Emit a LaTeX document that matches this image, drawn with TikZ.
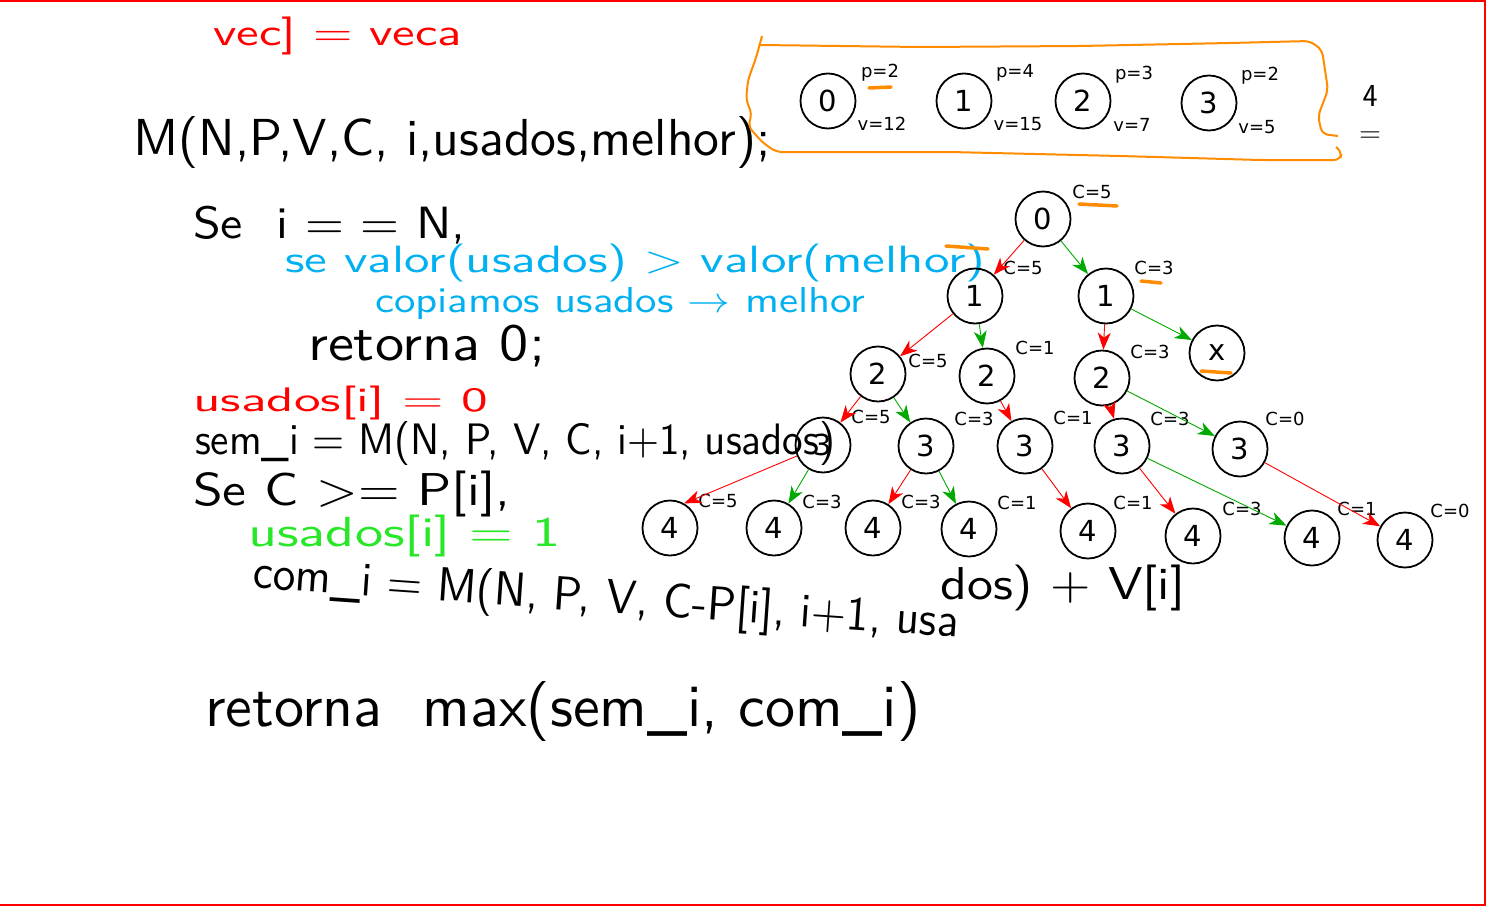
\documentclass[tikz,border=0pt]{standalone}
\usepackage{fontspec}
\newfontfamily\treefont{DejaVu Sans}
\usetikzlibrary{arrows.meta, calc}
\definecolor{penred}{RGB}{255,0,0}
\definecolor{pencyan}{RGB}{0,176,240}
\definecolor{pengreen}{RGB}{40,230,40}
\definecolor{edgegreen}{RGB}{0,170,0}
\definecolor{penorange}{RGB}{255,140,0}
\newcommand{\fitwh}[3]{\resizebox*{#1}{#2}{#3}}
\tikzset{
  st/.style  ={circle, draw=black, line width=1.8pt, minimum size=55pt,
               inner sep=0pt, font=\treefont\fontsize{29}{31}\selectfont},
  clab/.style={inner sep=0pt, font=\treefont\fontsize{18}{20}\selectfont},
  hw/.style  ={inner sep=0pt, anchor=west, font=\sffamily},
  nao/.style ={-{Stealth[length=17pt, width=13pt, inset=5pt]}, penred, line width=0.9pt},
  sim/.style ={-{Stealth[length=17pt, width=13pt, inset=5pt]}, edgegreen, line width=0.9pt},
  hilite/.style={penorange, line width=3.5pt, line cap=round}
}
\begin{document}
\begin{tikzpicture}[x=1pt, y=-1pt]
    \useasboundingbox (0,0) rectangle (1487,907);
    \draw[penred, line width=2pt] (0,1) -- (1485,1) -- (1485,905) -- (0,905);

    % handwritten notes
    \node[hw, penred] (veca) at (213,36) {\fitwh{249pt}{38pt}{vec] = veca}};
    \node[hw] (assin) at (133,142) {\fitwh{637pt}{52pt}{M(N,P,V,C, i,usados,melhor);}};
    \node[hw] (base) at (193,225) {\fitwh{272pt}{38pt}{Se\ \ i = = N,}};
    \node[hw, pencyan] (cmp) at (285,263) {\fitwh{700pt}{38pt}{se valor(usados) > valor(melhor)}};
    \node[hw, pencyan] (copia) at (375,303) {\fitwh{490pt}{32pt}{copiamos usados $\rightarrow$ melhor}};
    \node[hw] (ret0) at (308,346) {\fitwh{237pt}{42pt}{retorna 0;}};
    \node[hw, penred] (zero) at (193,403) {\fitwh{295pt}{34pt}{usados[i] = 0}};
    \node[hw] (semi) at (195,443) {\fitwh{640pt}{44pt}{sem\_i = M(N, P, V, C, i+1, usados)}};
    \node[hw] (cond) at (193,494) {\fitwh{317pt}{46pt}{Se C >= P[i],}};
    \node[hw, pengreen] (um) at (248,536) {\fitwh{312pt}{42pt}{usados[i] = 1}};
    \node[hw, rotate=-4] (comi) at (253,576) {\fitwh{707pt}{48pt}{com\_i = M(N, P, V, C-P[i], i+1, usa}};
    \node[hw] (comi2) at (940,588) {\fitwh{245pt}{46pt}{dos) + V[i]}};
    \node[hw] (retmax) at (205,711) {\fitwh{715pt}{60pt}{retorna\ \ max(sem\_i, com\_i)}};
    \node[font=\sffamily\fontsize{32}{34}\selectfont, inner sep=0pt] (cap) at (1370,96) {4};
    \node[font=\sffamily\fontsize{30}{32}\selectfont, inner sep=0pt] (capeq) at (1370,137) {=};

    % items
    \draw[penorange, line width=2pt, rounded corners=6pt]
      (762,36) -- (756,58) -- (748,80) -- (746,100) -- (752,114) -- (748,126)
      -- (762,142) -- (776,152) -- (950,152) -- (1120,156) -- (1260,160)
      -- (1340,160) -- (1342,152) -- (1336,147);
    \draw[penorange, line width=2pt, rounded corners=6pt]
      (760,45) -- (920,47) -- (1080,46) -- (1230,43) -- (1310,41) -- (1322,50)
      -- (1328,90) -- (1318,116) -- (1322,134) -- (1338,136);
    \node[st] (it0) at (828,101) {0};
    \node[st] (it1) at (964,101) {1};
    \node[st] (it2) at (1083,101) {2};
    \node[st] (it3) at (1209,103) {3};
    \node[clab] (p0) at (880,73) {p=2};
    \node[clab] (v0) at (882,124) {v=12};
    \node[clab] (p1) at (1015,73) {p=4};
    \node[clab] (v1) at (1018,124) {v=15};
    \node[clab] (p2) at (1134,75) {p=3};
    \node[clab] (v2) at (1132,125) {v=7};
    \node[clab] (p3) at (1260,76) {p=2};
    \node[clab] (v3) at (1257,127) {v=5};

    % recursion tree
    \node[st] (r)  at (1043,219) {0};
    \node[st] (a1) at (975,296) {1};
    \node[st] (b1) at (1106,296) {1};
    \node[st] (a2) at (878,374) {2};
    \node[st] (b2) at (987,376) {2};
    \node[st] (c2) at (1102,378) {2};
    \node[st] (cx) at (1217,353) {x};
    \node[st] (a3) at (823,445) {3};
    \node[st] (b3) at (926,446) {3};
    \node[st] (c3) at (1025,446) {3};
    \node[st] (d3) at (1122,446) {3};
    \node[st] (e3) at (1240,449) {3};
    \node[st] (a4) at (670,528) {4};
    \node[st] (b4) at (774,528) {4};
    \node[st] (c4) at (873,528) {4};
    \node[st] (d4) at (969,529) {4};
    \node[st] (e4) at (1088,531) {4};
    \node[st] (f4) at (1193,536) {4};
    \node[st] (g4) at (1312,538) {4};
    \node[st] (h4) at (1405,540) {4};

    \node[clab] (cr)  at (1092,192) {C=5};
    \node[clab] (ca1) at (1023,268) {C=5};
    \node[clab] (cb1) at (1154,268) {C=3};
    \node[clab] (ca2) at (928,361) {C=5};
    \node[clab] (cb2) at (1035,348) {C=1};
    \node[clab] (cc2) at (1150,352) {C=3};
    \node[clab] (ca3) at (871,417) {C=5};
    \node[clab] (cb3) at (974,419) {C=3};
    \node[clab] (cc3) at (1073,418) {C=1};
    \node[clab] (cd3) at (1170,419) {C=3};
    \node[clab] (ce3) at (1285,419) {C=0};
    \node[clab] (ca4) at (718,501) {C=5};
    \node[clab] (cb4) at (822,502) {C=3};
    \node[clab] (cc4) at (921,502) {C=3};
    \node[clab] (cd4) at (1017,503) {C=1};
    \node[clab] (ce4) at (1133,503) {C=1};
    \node[clab] (cf4) at (1242,509) {C=3};
    \node[clab] (cg4) at (1357,509) {C=1};
    \node[clab] (ch4) at (1450,511) {C=0};

    \draw[nao] (r) -- (a1);
    \draw[sim] (r) -- (b1);
    \draw[nao] (a1) -- (a2);
    \draw[sim] (a1) -- (b2);
    \draw[nao] (b1) -- (c2);
    \draw[sim] (b1) -- (cx);
    \draw[nao] (a2) -- (a3);
    \draw[sim] (a2) -- (b3);
    \draw[nao] (b2) -- (c3);
    \draw[nao] (c2) -- (d3);
    \draw[sim] (c2) -- (e3);
    \draw[nao] (a3) -- (a4.60);
    \draw[sim] (a3) -- (b4);
    \draw[nao] (b3) -- (c4);
    \draw[sim] (b3) -- (d4);
    \draw[nao] (c3) -- (e4);
    \draw[nao] (d3) -- (f4);
    \draw[sim] (d3) -- (g4);
    \draw[nao] (e3) -- (h4);

    % orange highlights
    \draw[hilite] (869,88) -- (891,87);
    \draw[hilite] (946,246) -- (988,249);
    \draw[hilite] (1079,204) -- (1117,206);
    \draw[hilite] (1141,281) -- (1161,283);
    \draw[hilite] (1201,371) -- (1231,373);
  \end{tikzpicture}
\end{document}
